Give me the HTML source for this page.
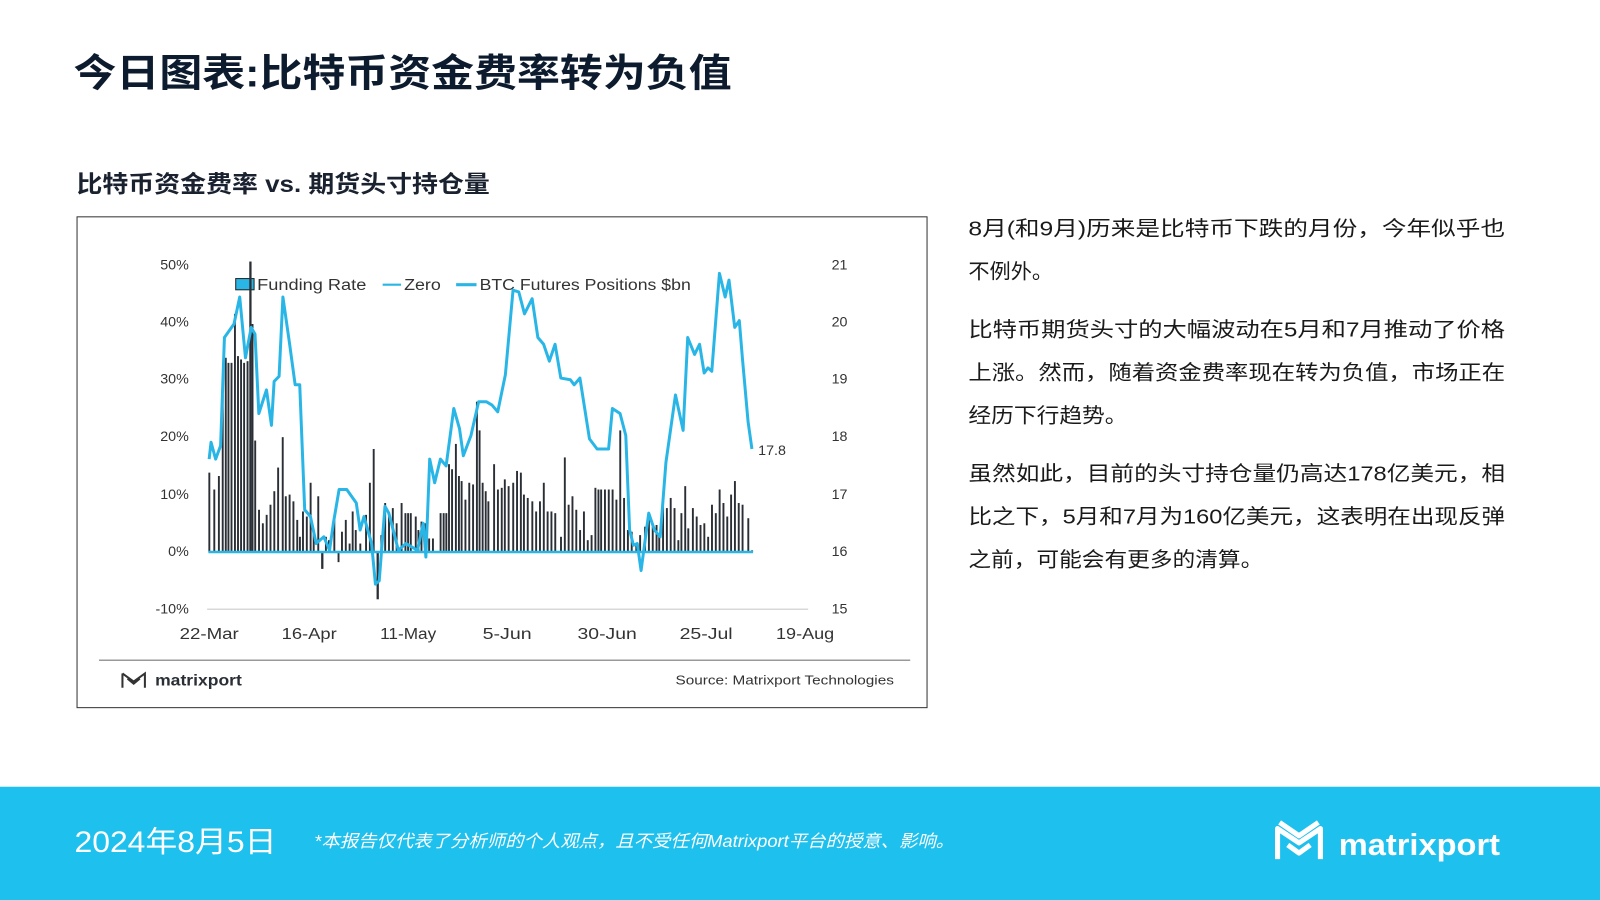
<!DOCTYPE html>
<html><head><meta charset="utf-8"><style>
html,body{margin:0;padding:0;background:#fff;}
svg{display:block;}
text{font-family:"Liberation Sans","Noto Sans CJK SC",sans-serif;}
</style></head><body>
<svg width="1600" height="900" viewBox="0 0 1568 882" preserveAspectRatio="none" xmlns="http://www.w3.org/2000/svg">
<rect width="1568" height="882" fill="#fff"/>
<text x="72" y="85" font-size="38" font-weight="bold" fill="#0d1b2e" textLength="645" lengthAdjust="spacingAndGlyphs">今日图表:比特币资金费率转为负值</text>
<text x="75" y="188" font-size="23" font-weight="bold" fill="#1a2230" textLength="405" lengthAdjust="spacingAndGlyphs">比特币资金费率 vs. 期货头寸持仓量</text>
<rect x="75.5" y="212.5" width="833" height="481" fill="#fff" stroke="#333" stroke-width="1"/>
<g font-size="14" fill="#333" text-anchor="end">
<text x="185" y="264">50%</text><text x="185" y="320">40%</text><text x="185" y="376">30%</text><text x="185" y="432">20%</text><text x="185" y="489">10%</text><text x="185" y="545">0%</text><text x="185" y="601">-10%</text>
</g>
<g font-size="14" fill="#333">
<text x="815" y="264">21</text><text x="815" y="320">20</text><text x="815" y="376">19</text><text x="815" y="432">18</text><text x="815" y="489">17</text><text x="815" y="545">16</text><text x="815" y="601">15</text>
<text x="743" y="446">17.8</text>
</g>
<line x1="203" y1="597" x2="792" y2="597" stroke="#ccc" stroke-width="1"/>
<g font-size="15" fill="#333" text-anchor="middle">
<text x="205" y="626" textLength="58" lengthAdjust="spacingAndGlyphs">22-Mar</text><text x="303" y="626" textLength="54" lengthAdjust="spacingAndGlyphs">16-Apr</text><text x="400" y="626" textLength="55" lengthAdjust="spacingAndGlyphs">11-May</text><text x="497" y="626" textLength="48" lengthAdjust="spacingAndGlyphs">5-Jun</text><text x="595" y="626" textLength="58" lengthAdjust="spacingAndGlyphs">30-Jun</text><text x="692" y="626" textLength="52" lengthAdjust="spacingAndGlyphs">25-Jul</text><text x="789" y="626" textLength="57" lengthAdjust="spacingAndGlyphs">19-Aug</text>
</g>
<line x1="97" y1="647" x2="892" y2="647" stroke="#999" stroke-width="1.5"/>
<g fill="none" stroke="#333" stroke-width="2">
<path d="M120 660 L120 674 M120 660 L131 668 L142 660 L142 674 M125 665 L131 670 L137 665"/>
</g>
<text x="152" y="672" font-size="15" font-weight="bold" fill="#2a2f36" textLength="85" lengthAdjust="spacingAndGlyphs">matrixport</text>
<text x="876" y="671" font-size="13" fill="#333" text-anchor="end" textLength="214" lengthAdjust="spacingAndGlyphs">Source: Matrixport Technologies</text>
<!-- legend -->
<rect x="231" y="273" width="18" height="11" fill="#29b6e6" stroke="#222" stroke-width="1"/>
<g font-size="15" fill="#333">
<text x="252" y="284" textLength="107" lengthAdjust="spacingAndGlyphs">Funding Rate</text>
<text x="396" y="284" textLength="36" lengthAdjust="spacingAndGlyphs">Zero</text>
<text x="470" y="284" textLength="207" lengthAdjust="spacingAndGlyphs">BTC Futures Positions $bn</text>
</g>
<line x1="375" y1="279" x2="393" y2="279" stroke="#29b6e6" stroke-width="2"/>
<line x1="447" y1="279" x2="467" y2="279" stroke="#29b6e6" stroke-width="3"/>
<g transform="translate(188.1,241.4) scale(0.3746,0.331)">
<g fill="#2a2f36">
<rect x="43" y="670" width="5" height="235"/><rect x="56" y="720" width="5" height="185"/><rect x="68" y="680" width="5" height="225"/><rect x="78" y="440" width="5" height="465"/><rect x="86" y="330" width="5" height="575"/><rect x="93" y="345" width="5" height="560"/><rect x="101" y="345" width="5" height="560"/><rect x="110" y="200" width="5" height="705"/><rect x="118" y="325" width="5" height="580"/><rect x="126" y="335" width="5" height="570"/><rect x="134" y="345" width="5" height="560"/><rect x="143" y="340" width="5" height="565"/><rect x="150" y="45" width="6" height="860"/><rect x="156" y="230" width="5" height="675"/><rect x="163" y="575" width="5" height="330"/><rect x="173" y="780" width="5" height="125"/><rect x="183" y="820" width="5" height="85"/><rect x="193" y="795" width="5" height="110"/><rect x="203" y="765" width="5" height="140"/><rect x="213" y="725" width="5" height="180"/><rect x="223" y="655" width="5" height="250"/><rect x="235" y="565" width="5" height="340"/><rect x="243" y="740" width="5" height="165"/><rect x="253" y="735" width="5" height="170"/><rect x="263" y="755" width="5" height="150"/><rect x="273" y="810" width="5" height="95"/><rect x="280" y="860" width="5" height="45"/><rect x="288" y="785" width="5" height="120"/><rect x="298" y="800" width="5" height="105"/><rect x="308" y="700" width="5" height="205"/><rect x="316" y="840" width="5" height="65"/><rect x="328" y="740" width="5" height="165"/><rect x="338" y="905" width="6" height="50"/><rect x="348" y="860" width="5" height="45"/><rect x="356" y="870" width="5" height="35"/><rect x="370" y="800" width="5" height="105"/><rect x="381" y="905" width="5" height="30"/><rect x="390" y="845" width="5" height="60"/><rect x="400" y="810" width="5" height="95"/><rect x="410" y="880" width="5" height="25"/><rect x="418" y="785" width="5" height="120"/><rect x="426" y="840" width="5" height="65"/><rect x="438" y="880" width="5" height="25"/><rect x="453" y="795" width="5" height="110"/><rect x="463" y="700" width="5" height="205"/><rect x="473" y="600" width="5" height="305"/><rect x="483" y="905" width="6" height="140"/><rect x="493" y="855" width="5" height="50"/><rect x="503" y="760" width="5" height="145"/><rect x="513" y="800" width="5" height="105"/><rect x="523" y="775" width="5" height="130"/><rect x="533" y="820" width="5" height="85"/><rect x="546" y="760" width="5" height="145"/><rect x="556" y="790" width="5" height="115"/><rect x="563" y="790" width="5" height="115"/><rect x="570" y="790" width="5" height="115"/><rect x="583" y="800" width="5" height="105"/><rect x="590" y="840" width="5" height="65"/><rect x="598" y="815" width="5" height="90"/><rect x="608" y="820" width="5" height="85"/><rect x="618" y="865" width="5" height="40"/><rect x="628" y="865" width="5" height="40"/><rect x="648" y="790" width="5" height="115"/><rect x="656" y="790" width="5" height="115"/><rect x="663" y="790" width="5" height="115"/><rect x="670" y="645" width="5" height="260"/><rect x="678" y="660" width="5" height="245"/><rect x="688" y="585" width="5" height="320"/><rect x="696" y="680" width="5" height="225"/><rect x="703" y="695" width="5" height="210"/><rect x="713" y="750" width="5" height="155"/><rect x="723" y="700" width="5" height="205"/><rect x="733" y="705" width="5" height="200"/><rect x="743" y="460" width="5" height="445"/><rect x="750" y="545" width="5" height="360"/><rect x="758" y="700" width="5" height="205"/><rect x="766" y="725" width="5" height="180"/><rect x="773" y="755" width="5" height="150"/><rect x="788" y="645" width="5" height="260"/><rect x="798" y="720" width="5" height="185"/><rect x="808" y="715" width="5" height="190"/><rect x="816" y="690" width="5" height="215"/><rect x="826" y="710" width="5" height="195"/><rect x="838" y="700" width="5" height="205"/><rect x="848" y="665" width="5" height="240"/><rect x="858" y="670" width="5" height="235"/><rect x="866" y="735" width="5" height="170"/><rect x="876" y="745" width="5" height="160"/><rect x="888" y="755" width="5" height="150"/><rect x="898" y="785" width="5" height="120"/><rect x="908" y="755" width="5" height="150"/><rect x="918" y="700" width="5" height="205"/><rect x="928" y="785" width="5" height="120"/><rect x="938" y="785" width="5" height="120"/><rect x="948" y="790" width="5" height="115"/><rect x="963" y="860" width="5" height="45"/><rect x="973" y="625" width="5" height="280"/><rect x="983" y="765" width="5" height="140"/><rect x="993" y="740" width="5" height="165"/><rect x="1003" y="780" width="5" height="125"/><rect x="1013" y="840" width="5" height="65"/><rect x="1023" y="785" width="5" height="120"/><rect x="1033" y="870" width="5" height="35"/><rect x="1043" y="855" width="5" height="50"/><rect x="1053" y="715" width="5" height="190"/><rect x="1061" y="720" width="5" height="185"/><rect x="1068" y="720" width="5" height="185"/><rect x="1078" y="720" width="5" height="185"/><rect x="1088" y="720" width="5" height="185"/><rect x="1098" y="720" width="5" height="185"/><rect x="1108" y="750" width="5" height="155"/><rect x="1118" y="545" width="5" height="360"/><rect x="1128" y="745" width="5" height="160"/><rect x="1138" y="840" width="5" height="65"/><rect x="1148" y="845" width="5" height="60"/><rect x="1160" y="880" width="5" height="25"/><rect x="1170" y="855" width="5" height="50"/><rect x="1183" y="830" width="5" height="75"/><rect x="1193" y="810" width="5" height="95"/><rect x="1203" y="830" width="5" height="75"/><rect x="1213" y="825" width="5" height="80"/><rect x="1220" y="860" width="5" height="45"/><rect x="1230" y="750" width="5" height="155"/><rect x="1240" y="775" width="5" height="130"/><rect x="1250" y="745" width="5" height="160"/><rect x="1260" y="775" width="5" height="130"/><rect x="1270" y="870" width="5" height="35"/><rect x="1278" y="790" width="5" height="115"/><rect x="1288" y="710" width="5" height="195"/><rect x="1296" y="835" width="5" height="70"/><rect x="1308" y="775" width="5" height="130"/><rect x="1318" y="800" width="5" height="105"/><rect x="1328" y="825" width="5" height="80"/><rect x="1338" y="820" width="5" height="85"/><rect x="1348" y="860" width="5" height="45"/><rect x="1358" y="765" width="5" height="140"/><rect x="1368" y="790" width="5" height="115"/><rect x="1378" y="720" width="5" height="185"/><rect x="1388" y="760" width="5" height="145"/><rect x="1398" y="800" width="5" height="105"/><rect x="1408" y="735" width="5" height="170"/><rect x="1418" y="695" width="5" height="210"/><rect x="1428" y="760" width="5" height="145"/><rect x="1438" y="765" width="5" height="140"/><rect x="1453" y="805" width="5" height="100"/><rect x="1463" y="900" width="5" height="5"/>
</g>
<line x1="43" y1="905" x2="1468" y2="905" stroke="#29b6e6" stroke-width="2.5" vector-effect="non-scaling-stroke"/>
<polyline fill="none" stroke="#29b6e6" stroke-width="3" stroke-linejoin="round" vector-effect="non-scaling-stroke" points="45,630 50,580 62,630 75,590 85,270 110,230 125,150 140,330 155,240 165,260 175,495 195,425 208,530 215,400 228,385 238,150 255,285 270,410 282,410 295,780 310,800 325,880 345,860 360,900 370,820 385,720 405,720 430,760 440,840 450,800 470,880 480,1000 490,990 505,770 515,790 540,900 560,880 590,900 605,820 612,920 622,630 635,700 650,630 665,650 685,480 700,540 710,620 730,560 750,460 770,460 785,470 800,490 820,380 840,130 855,135 870,200 890,155 905,270 920,290 935,340 950,290 965,390 990,395 1000,410 1015,390 1040,570 1060,600 1090,600 1100,480 1120,495 1135,560 1145,840 1155,885 1165,880 1175,960 1195,790 1210,840 1225,860 1240,640 1265,440 1285,545 1297,270 1315,320 1328,290 1340,375 1350,360 1360,370 1380,80 1395,150 1405,100 1420,240 1432,220 1440,330 1455,520 1465,600"/>
</g>
<!-- right text -->
<g font-size="20" fill="#1a1a1a">
<text x="949" y="231" textLength="526" lengthAdjust="spacingAndGlyphs">8月(和9月)历来是比特币下跌的月份，今年似乎也</text>
<text x="949" y="273" textLength="83" lengthAdjust="spacingAndGlyphs">不例外。</text>
<text x="949" y="330" textLength="526" lengthAdjust="spacingAndGlyphs">比特币期货头寸的大幅波动在5月和7月推动了价格</text>
<text x="949" y="372" textLength="526" lengthAdjust="spacingAndGlyphs">上涨。然而，随着资金费率现在转为负值，市场正在</text>
<text x="949" y="414" textLength="156" lengthAdjust="spacingAndGlyphs">经历下行趋势。</text>
<text x="949" y="471" textLength="526" lengthAdjust="spacingAndGlyphs">虽然如此，目前的头寸持仓量仍高达178亿美元，相</text>
<text x="949" y="513" textLength="526" lengthAdjust="spacingAndGlyphs">比之下，5月和7月为160亿美元，这表明在出现反弹</text>
<text x="949" y="555" textLength="289" lengthAdjust="spacingAndGlyphs">之前，可能会有更多的清算。</text>
</g>
<!-- footer -->
<rect x="0" y="771" width="1568" height="111" fill="#1ec0ee"/>
<text x="73" y="835" font-size="29" fill="#fff" textLength="198" lengthAdjust="spacingAndGlyphs">2024年8月5日</text>
<text x="308" y="830" font-size="17" font-style="italic" fill="#fff" textLength="627" lengthAdjust="spacingAndGlyphs">*本报告仅代表了分析师的个人观点，且不受任何Matrixport平台的授意、影响。</text>
<path d="M1252 842 L1252 812 L1273 826 L1294 812 L1294 842 M1262 828 L1273 836 L1284 828 M1254 806 L1273 819 L1292 806" fill="none" stroke="#fff" stroke-width="5" stroke-linejoin="round"/>
<text x="1312" y="838" font-size="30" font-weight="bold" fill="#fff" textLength="158" lengthAdjust="spacingAndGlyphs">matrixport</text>
</svg>
</body></html>
